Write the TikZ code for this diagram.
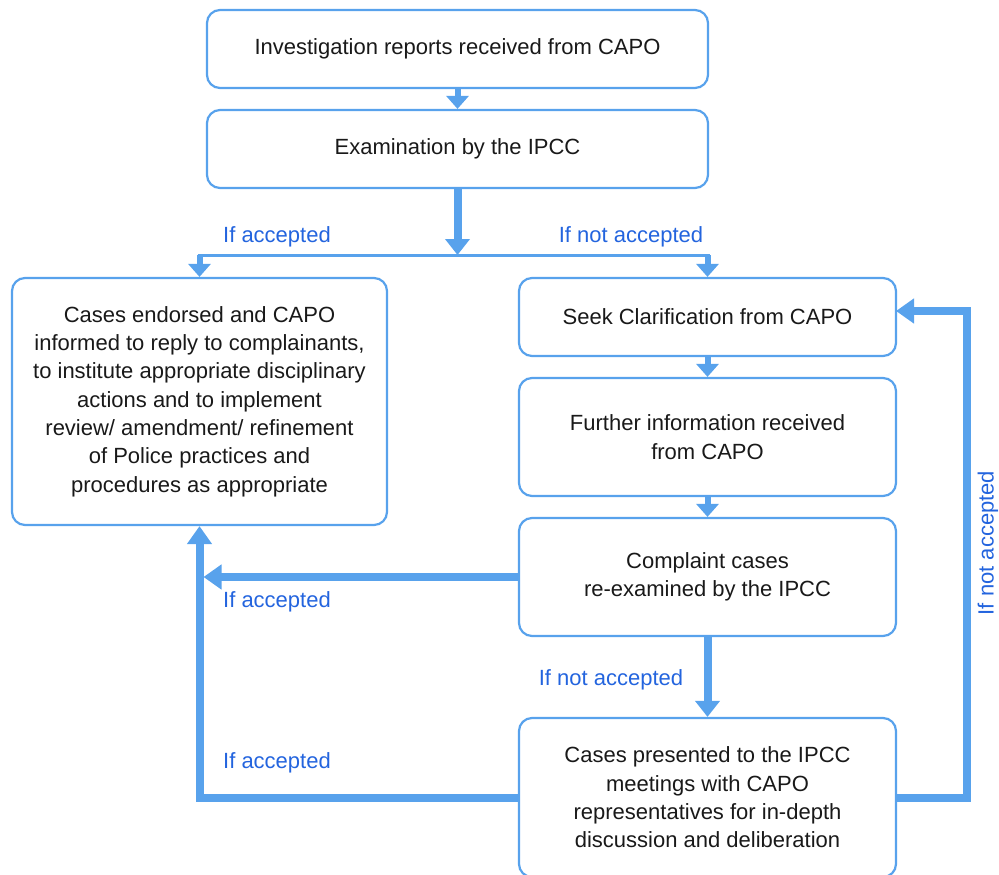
\documentclass[tikz,border=0pt]{standalone}
\usepackage{fontspec}
\setmainfont{Liberation Sans}
\usetikzlibrary{arrows.meta}
\definecolor{lineblue}{RGB}{88,162,236}
\definecolor{labelblue}{RGB}{35,100,222}
\tikzset{
  box/.style={draw=lineblue, line width=2.2pt, rounded corners=13pt, align=center,
    font=\fontsize{22}{28.3}\selectfont, text=black!90, inner sep=0pt},
  conn/.style={draw=lineblue, line width=8pt, line join=miter},
  thinconn/.style={draw=lineblue, line width=6pt},
  bighead/.style={-{Triangle[width=24pt,length=16pt]}},
  smallhead/.style={-{Triangle[width=22pt,length=13pt]}},
  lbl/.style={text=labelblue, font=\fontsize{22}{26}\selectfont, inner sep=0pt}
}
\begin{document}
\begin{tikzpicture}[x=1pt,y=-1pt]
\useasboundingbox (0,0) rectangle (999,875);
\clip (0,0) rectangle (999,875);
\node[box, minimum width=501pt, minimum height=78pt] (top) at (457.5,49) {Investigation reports received from CAPO};
\node[box, minimum width=501pt, minimum height=78pt] (exam) at (457.5,149) {Examination by the IPCC};
\node[box, minimum width=375pt, minimum height=247pt] (left) at (199.5,401.5) {Cases endorsed and CAPO\\informed to reply to complainants,\\to institute appropriate disciplinary\\actions and to implement\\review/ amendment/ refinement\\of Police practices and\\procedures as appropriate};
\node[box, minimum width=377pt, minimum height=78pt] (seek) at (707.5,317) {Seek Clarification from CAPO};
\node[box, minimum width=377pt, minimum height=118pt] (further) at (707.5,437) {Further information received\\from CAPO};
\node[box, minimum width=377pt, minimum height=118pt] (complaint) at (707.5,577) {Complaint cases\\re-examined by the IPCC};
\node[box, minimum width=377pt, minimum height=159pt] (presented) at (707.5,797.5) {Cases presented to the IPCC\\meetings with CAPO\\representatives for in-depth\\discussion and deliberation};

\coordinate (j) at (457.5,255);
\coordinate (jl) at (199.5,255);
\coordinate (jr) at (707.5,255);
\coordinate (vl) at (199.5,797.5);
\coordinate (vlr) at (203.5,577);
\coordinate (rc1) at (967,797.5);
\coordinate (rc2) at (967,311);
\coordinate (sk) at (896,311);

% top flow
\draw[thinconn, smallhead] (top.south) -- (exam.north);
\draw[conn, bighead] (exam.south) -- (j);
\draw[draw=lineblue, line width=3pt] ([xshift=-2pt]jl) -- ([xshift=2pt]jr);
\draw[thinconn, smallhead] (jl) -- (left.north);
\draw[thinconn, smallhead] (jr) -- (seek.north);

% right column
\draw[thinconn, smallhead] (seek.south) -- (further.north);
\draw[thinconn, smallhead] (further.south) -- (complaint.north);
\draw[conn, bighead] (complaint.south) -- (presented.north);

% back to left box
\draw[conn, -{Triangle[width=24pt,length=18pt]}] (complaint.west) -- (vlr);
\draw[conn, -{Triangle[width=24pt,length=18pt]}] (presented.west) -- (vl) -- (left.south);

% loop back to seek
\draw[conn, -{Triangle[width=24pt,length=18pt]}] (presented.east) -- (rc1) -- (rc2) -- (sk);

% labels
\node[lbl] (l1) at (277,237) {If accepted};
\node[lbl] (l2) at (631,237) {If not accepted};
\node[lbl] (l3) at (277,602) {If accepted};
\node[lbl] (l4) at (611,680) {If not accepted};
\node[lbl] (l5) at (277,763) {If accepted};
\node[lbl, rotate=90] (l6) at (988,543) {If not accepted};
\end{tikzpicture}
\end{document}
